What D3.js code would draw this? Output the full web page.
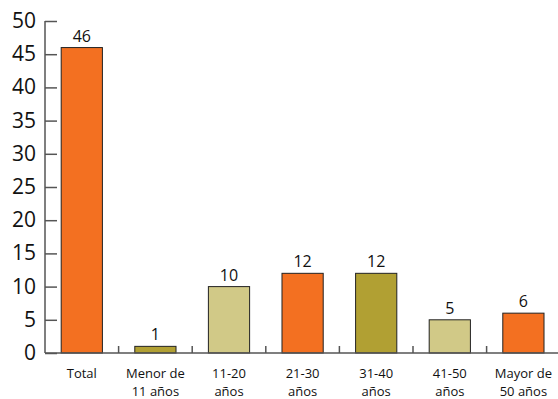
<!DOCTYPE html>
<html>
<head>
<meta charset="utf-8">
<script src="https://cdn.jsdelivr.net/npm/d3@7"></script>
<style>
  body { margin: 0; background: #fff; }
  svg { font-family: "Open Sans", "DejaVu Sans", sans-serif; }
</style>
</head>
<body>
<div class="chart"></div>
<script>
// data
const categories = ['Total', 'Menor de|11 años', '11-20|años', '21-30|años', '31-40|años', '41-50|años', 'Mayor de|50 años'];
const values = [46, 1, 10, 12, 12, 5, 6];
const barColors = ['#f37021', '#b1a033', '#d1c987', '#f37021', '#b1a033', '#d1c987', '#f37021'];
const yTicks = [0, 5, 10, 15, 20, 25, 30, 35, 40, 45, 50];

const W = 558, H = 399;
const margin = { top: 21, right: 0, bottom: 46, left: 45 };

const svg = d3.select('.chart')
  .append('svg')
  .attr('width', W)
  .attr('height', H);

const xScale = d3.scaleBand()
  .domain(categories)
  .range([margin.left, margin.left + 73.6 * 7])
  .paddingInner(0.44)
  .paddingOuter(0.22);

const yScale = d3.scaleLinear()
  .domain([0, 50])
  .range([H - margin.bottom, margin.top]);

// bars
svg.selectAll('.bar')
  .data(values)
  .enter()
  .append('rect')
  .attr('class', 'bar')
  .attr('x', (d, i) => xScale(categories[i]))
  .attr('y', d => yScale(d))
  .attr('width', xScale.bandwidth())
  .attr('height', d => yScale(0) - yScale(d))
  .attr('fill', (d, i) => barColors[i])
  .attr('stroke', '#222')
  .attr('stroke-width', 1);

// value labels
svg.selectAll('.val')
  .data(values)
  .enter()
  .append('text')
  .attr('class', 'val')
  .attr('x', (d, i) => xScale(categories[i]) + xScale.bandwidth() / 2)
  .attr('y', d => yScale(d) - 6)
  .attr('text-anchor', 'middle')
  .attr('font-size', 16)
  .attr('fill', '#111')
  .text(d => d);

// y axis
const yAxis = svg.append('g')
  .attr('transform', `translate(${margin.left},0)`)
  .call(d3.axisRight(yScale).tickValues(yTicks).tickSize(12).tickFormat(''));
yAxis.select('.domain').remove();
yAxis.selectAll('line').attr('stroke', '#555').attr('stroke-width', 1.5);
svg.append('line')
  .attr('x1', margin.left).attr('x2', margin.left)
  .attr('y1', yScale(50)).attr('y2', yScale(0))
  .attr('stroke', '#555').attr('stroke-width', 1.5);

svg.selectAll('.ylab')
  .data(yTicks)
  .enter()
  .append('text')
  .attr('class', 'ylab')
  .attr('x', 36)
  .attr('y', d => yScale(d) + 7)
  .attr('text-anchor', 'end')
  .attr('font-size', 21)
  .attr('fill', '#111')
  .text(d => d);

// x axis line and separators
svg.append('line')
  .attr('x1', margin.left).attr('x2', W)
  .attr('y1', yScale(0)).attr('y2', yScale(0))
  .attr('stroke', '#555').attr('stroke-width', 1.5);

const step = xScale.step();
svg.selectAll('.sep')
  .data(categories.slice(1))
  .enter()
  .append('line')
  .attr('class', 'sep')
  .attr('x1', d => xScale(d) - step * 0.22)
  .attr('x2', d => xScale(d) - step * 0.22)
  .attr('y1', yScale(0))
  .attr('y2', yScale(0) - 7)
  .attr('stroke', '#555')
  .attr('stroke-width', 1.5);

// category labels
const cat = svg.selectAll('.cat')
  .data(categories)
  .enter()
  .append('text')
  .attr('class', 'cat')
  .attr('text-anchor', 'middle')
  .attr('font-size', 13)
  .attr('fill', '#111');
cat.selectAll('tspan')
  .data(d => d.split('|').map(t => ({ t, c: d })))
  .enter()
  .append('tspan')
  .attr('x', d => xScale(d.c) + xScale.bandwidth() / 2)
  .attr('y', (d, i) => 378 + i * 18)
  .text(d => d.t);
</script>
</body>
</html>
